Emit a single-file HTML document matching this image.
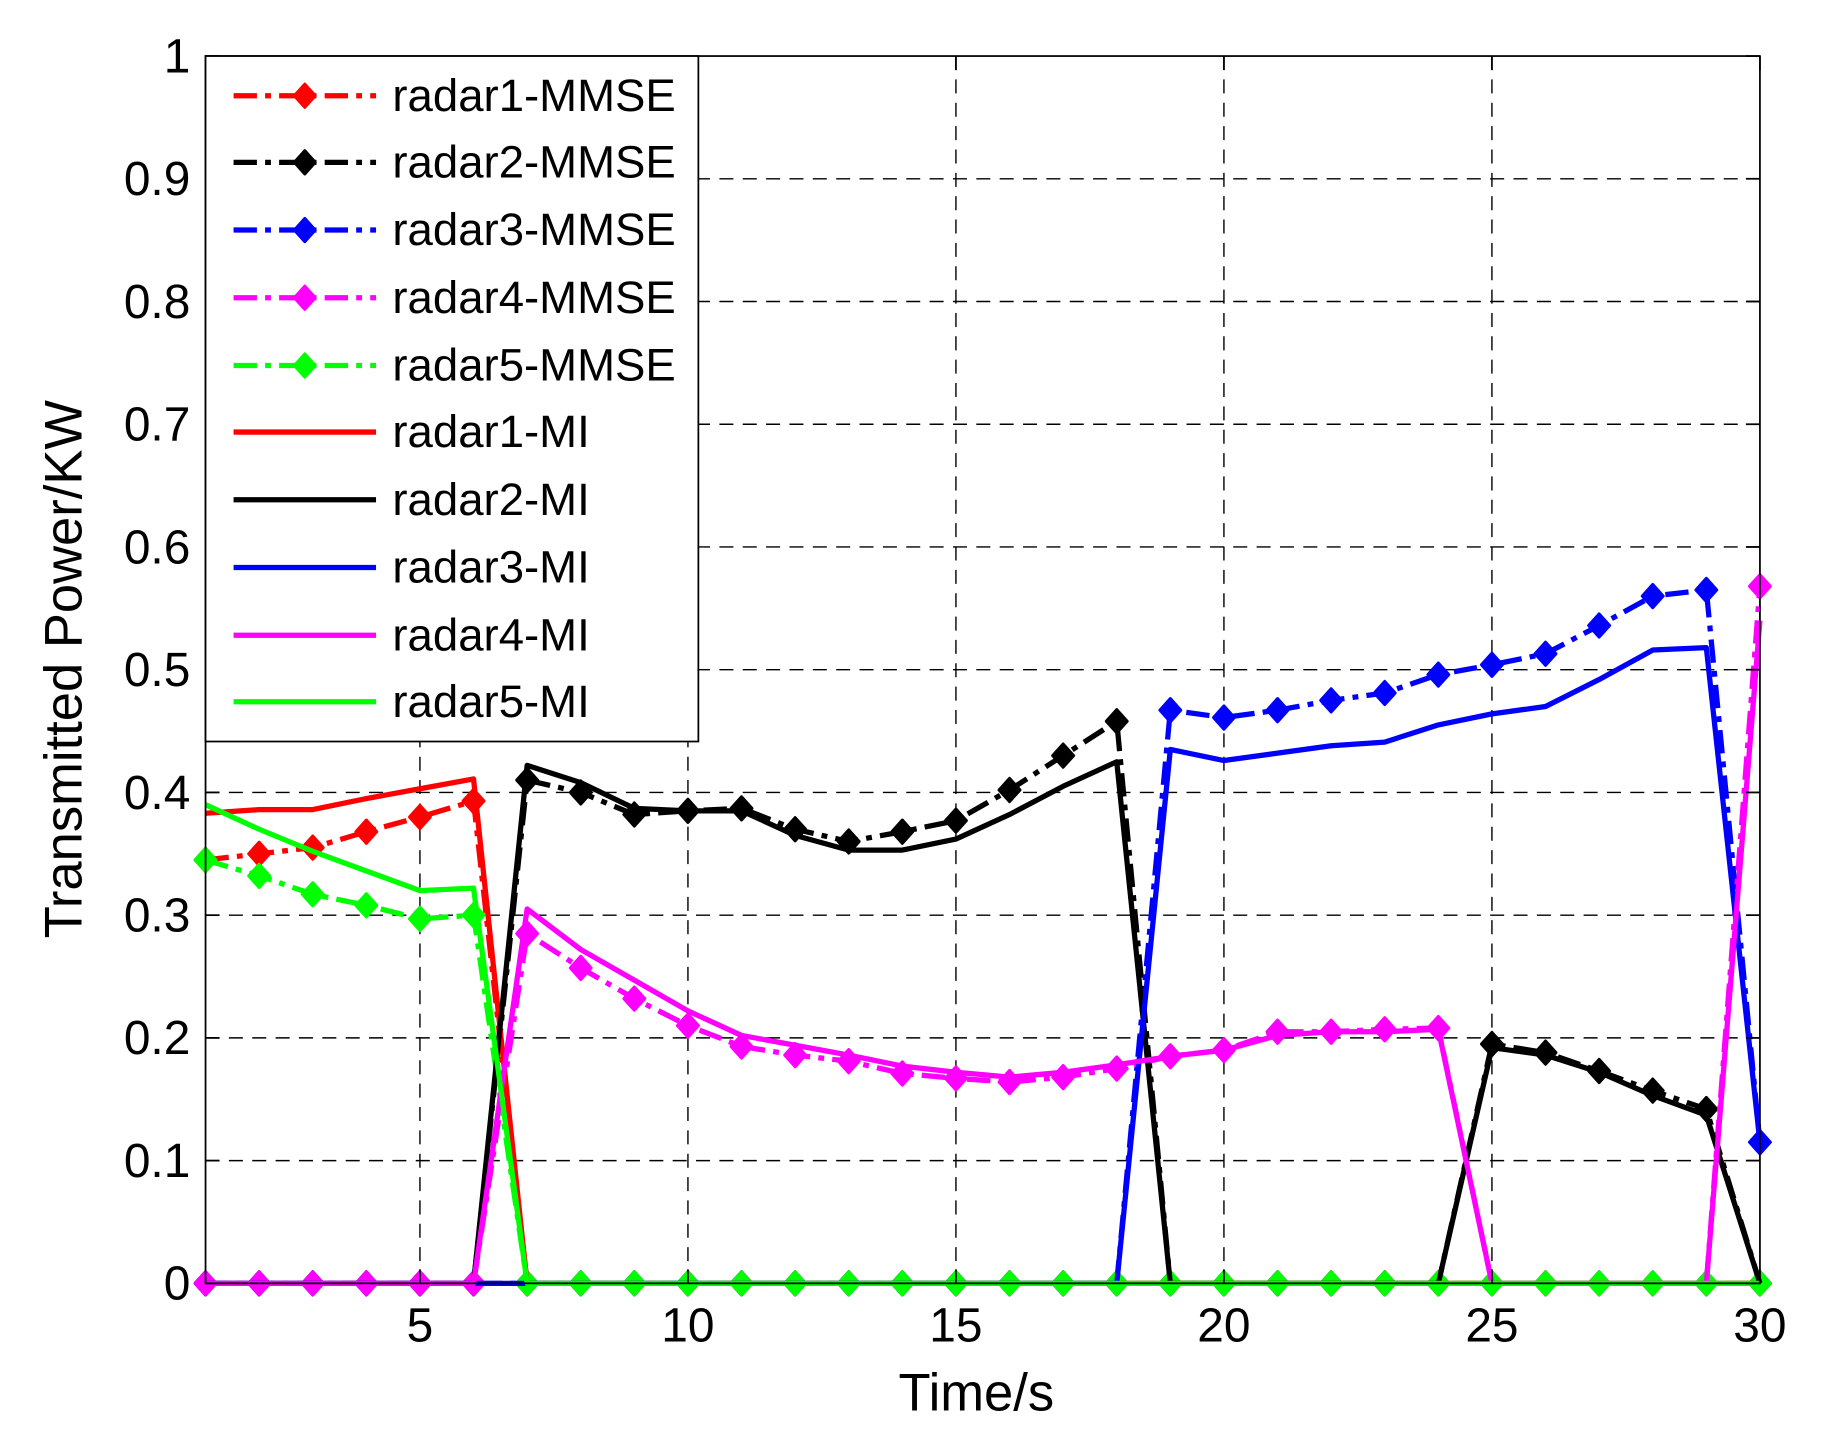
<!DOCTYPE html>
<html><head><meta charset="utf-8"><style>
html,body{margin:0;padding:0;background:#fff;}
svg{display:block;font-family:"Liberation Sans",Arial,sans-serif;}
</style></head><body>
<svg id="s" width="1830" height="1455" viewBox="0 0 1567 1246" preserveAspectRatio="none" xmlns="http://www.w3.org/2000/svg">
<rect width="1567" height="1246" fill="#fff"/>
<g id="grid"></g>
<g id="series"></g>
<g id="axes"></g>
<g id="legend"></g>
</svg>
<script>
const NS="http://www.w3.org/2000/svg";
const L=176,R=1507,T=48,B=1099;
const X=t=>L+(t-1)*(R-L)/29, Y=v=>B-v*(B-T);
function el(p,tag,a,txt){const e=document.createElementNS(NS,tag);for(const k in a)e.setAttribute(k,a[k]);if(txt!=null)e.textContent=txt;document.getElementById(p).appendChild(e);return e;}
for(let t=5;t<=25;t+=5)el("grid","line",{x1:X(t),x2:X(t),y1:T,y2:B,stroke:"#000","stroke-width":1.2,"stroke-dasharray":"12,8"});
for(let i=1;i<10;i++)el("grid","line",{x1:L,x2:R,y1:Y(i/10),y2:Y(i/10),stroke:"#000","stroke-width":1.2,"stroke-dasharray":"12,8"});
const z=n=>Array(n).fill(0);
const D={
r1m:[.345,.35,.355,.368,.38,.393,...z(24)],
r1i:[.383,.386,.386,.395,.403,.411,...z(24)],
r2m:[...z(6),.41,.4,.382,.385,.387,.37,.36,.368,.377,.402,.43,.458,...z(6),.195,.188,.173,.157,.142,0],
r2i:[...z(6),.422,.408,.387,.385,.385,.365,.353,.353,.362,.382,.405,.425,...z(6),.192,.186,.172,.153,.137,0],
r3m:[...z(18),.467,.461,.467,.475,.481,.496,.504,.513,.536,.56,.565,.115],
r3i:[...z(18),.435,.426,.432,.438,.441,.455,.464,.47,.492,.516,.518,.115],
r4m:[...z(6),.285,.257,.232,.21,.193,.186,.181,.171,.167,.164,.168,.175,.185,.19,.205,.205,.207,.208,...z(5),.568],
r4i:[...z(6),.305,.272,.247,.222,.202,.194,.186,.177,.172,.168,.172,.178,.185,.19,.202,.205,.205,.207,...z(5),.54],
r5m:[.345,.332,.317,.308,.297,.3,...z(24)],
r5i:[.39,.37,.352,.336,.32,.322,...z(24)]
};
const C={1:"#ff0000",2:"#000000",3:"#0000ff",4:"#ff00ff",5:"#00ff00"};
const DD="20,7,5,7";
function dia(g,x,y,c){el(g,"path",{d:`M${x} ${y-10}L${x+9} ${y}L${x} ${y+10}L${x-9} ${y}Z`,fill:c,stroke:c,"stroke-width":2.5,"stroke-linejoin":"round"});}
function series(k,c,dash,mk){
 const pts=D[k].map((v,i)=>X(i+1)+","+Y(v)).join(" ");
 const a={points:pts,fill:"none",stroke:c,"stroke-width":4.5,"stroke-linejoin":"round"};
 if(dash)a["stroke-dasharray"]=dash;
 el("series","polyline",a);
 if(mk)D[k].forEach((v,i)=>dia("series",X(i+1),Y(v),c));
}
for(let i=1;i<=5;i++)series("r"+i+"m",C[i],DD,true);
for(let i=1;i<=5;i++)series("r"+i+"i",C[i],null,false);
el("axes","rect",{x:L,y:T,width:R-L,height:B-T,fill:"none",stroke:"#000","stroke-width":1.5});
for(let t=5;t<=30;t+=5){el("axes","line",{x1:X(t),x2:X(t),y1:B,y2:B-12,stroke:"#000","stroke-width":1.5});el("axes","line",{x1:X(t),x2:X(t),y1:T,y2:T+12,stroke:"#000","stroke-width":1.5});
 el("axes","text",{x:X(t),y:1149,"font-size":41,"text-anchor":"middle"},String(t));}
for(let i=0;i<=10;i++){const y=Y(i/10);el("axes","line",{x1:L,x2:L+12,y1:y,y2:y,stroke:"#000","stroke-width":1.5});el("axes","line",{x1:R,x2:R-12,y1:y,y2:y,stroke:"#000","stroke-width":1.5});
 el("axes","text",{x:163,y:y+14,"font-size":41,"text-anchor":"end"},i==0?"0":i==10?"1":(i/10).toString());}
el("axes","text",{x:836,y:1208,"font-size":45,"text-anchor":"middle"},"Time/s");
el("axes","text",{x:70,y:573,"font-size":45,"text-anchor":"middle",transform:"rotate(-90 70 573)"},"Transmitted Power/KW");
el("legend","rect",{x:176,y:48,width:422,height:587,fill:"#fff",stroke:"#000","stroke-width":1.5});
const ys=[82,139,197,255,313,370,428,486,544,601];
for(let j=0;j<10;j++){const i=j%5+1,m=j<5,c=C[i],y=ys[j];
 const a={x1:200,x2:322,y1:y,y2:y,stroke:c,"stroke-width":4.5};if(m)a["stroke-dasharray"]=DD;
 el("legend","line",a); if(m)dia("legend",261,y,c);
 el("legend","text",{x:336,y:y+13,"font-size":39},"radar"+i+(m?"-MMSE":"-MI"));}
</script>
</body></html>
